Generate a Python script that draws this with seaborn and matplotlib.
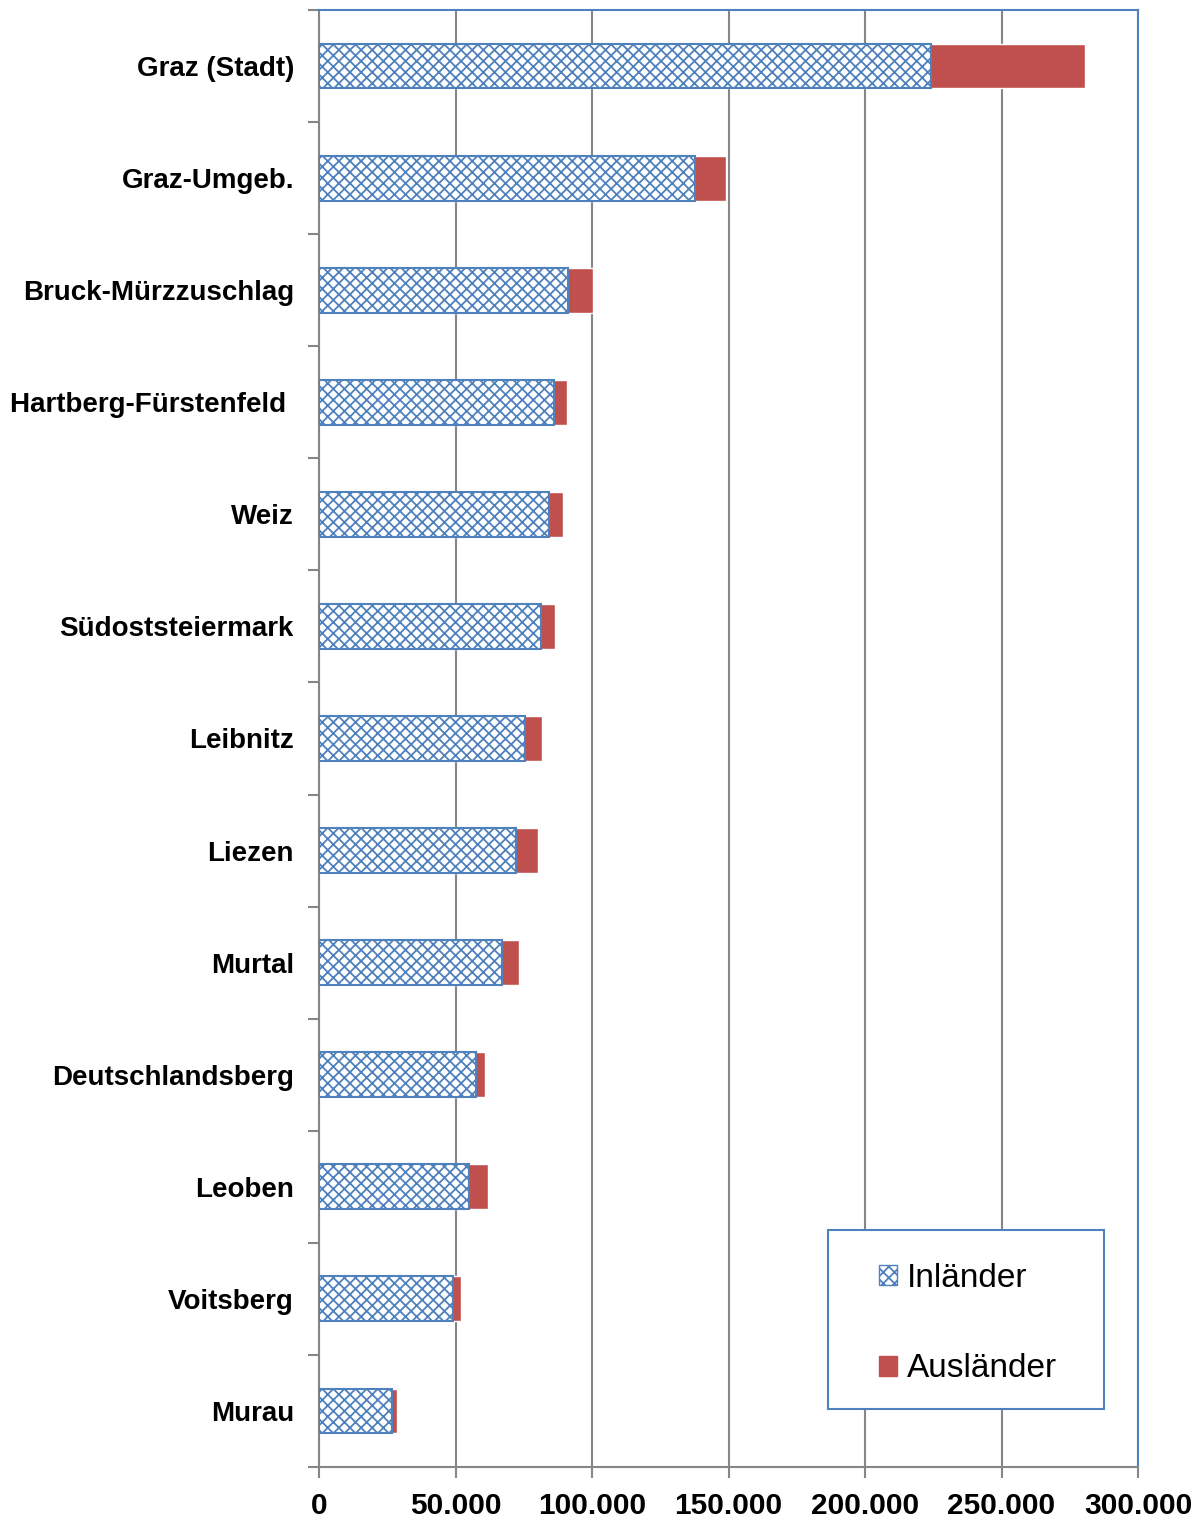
import matplotlib
matplotlib.use("Agg")
import matplotlib.pyplot as plt
from matplotlib.patches import Patch, Rectangle
import seaborn as sns

regions = ["Graz (Stadt)", "Graz-Umgeb.", "Bruck-Mürzzuschlag", "Hartberg-Fürstenfeld ",
           "Weiz", "Südoststeiermark", "Leibnitz", "Liezen", "Murtal",
           "Deutschlandsberg", "Leoben", "Voitsberg", "Murau"]
inlaender = [224200, 137700, 91200, 86100, 84200, 81300, 75500, 72200, 67000,
             57500, 54900, 49100, 26700]
auslaender = [56400, 11400, 9200, 4700, 5200, 5100, 6200, 8000, 6200,
              3300, 7000, 2900, 1800]
xticks = [0, 50000, 100000, 150000, 200000, 250000, 300000]
xlabels = ["0", "50.000", "100.000", "150.000", "200.000", "250.000", "300.000"]

blue = "#4F81BD"
red = "#C0504D"
grey = "#868686"

sns.set_style("white")
plt.rcParams["font.family"] = ["Liberation Sans", "DejaVu Sans"]
plt.rcParams["hatch.color"] = blue
plt.rcParams["hatch.linewidth"] = 1.3
plt.rcParams["text.color"] = "black"

total = [a + b for a, b in zip(inlaender, auslaender)]

fig = plt.figure(figsize=(12.02, 15.22), dpi=100)
ax = fig.add_axes([319 / 1202, 1 - 1467 / 1522, (1138 - 319) / 1202, (1467 - 10) / 1522])

sns.barplot(x=total, y=regions, color=red, orient="h", width=0.4,
            saturation=1, ax=ax, zorder=3)
sns.barplot(x=inlaender, y=regions, color="white", orient="h", width=0.4,
            saturation=1, ax=ax, hatch="xxx", edgecolor=blue, linewidth=1.5, zorder=4)

ax.set_xlim(0, 300000)
ax.set_ylim(12.5, -0.5)
ax.set_xticks(xticks)
ax.set_xticklabels(xlabels, fontsize=21.5, fontweight="bold", color="black")
ax.set_yticks(range(len(regions)))
ax.set_yticklabels(regions, fontsize=20, fontweight="bold", color="black")
ax.tick_params(axis="y", length=0, pad=18)
ax.set_yticks([i - 0.5 for i in range(len(regions) + 1)], minor=True)
ax.tick_params(axis="y", which="minor", length=8, width=1.5, color=grey, left=True)
ax.tick_params(axis="x", length=8, width=1.5, color=grey, bottom=True, pad=10)
ax.set_xlabel("")
ax.set_ylabel("")

ax.grid(axis="x", color=grey, linewidth=1.5, zorder=0)
ax.set_axisbelow(True)
for side in ["left", "bottom"]:
    ax.spines[side].set_color(grey)
    ax.spines[side].set_linewidth(1.5)
for side in ["top", "right"]:
    ax.spines[side].set_color(blue)
    ax.spines[side].set_linewidth(1.5)

# legend box drawn separately, entries without frame
box = Rectangle((0.6215, 0.0398), 0.337, 0.1229, transform=ax.transAxes,
                facecolor="white", edgecolor=blue, linewidth=1.5, zorder=5)
ax.add_patch(box)
handles = [Patch(facecolor="white", edgecolor=blue, hatch="xxx", label="Inländer"),
           Patch(facecolor=red, edgecolor=red, label="Ausländer")]
leg = ax.legend(handles=handles, loc="upper left", bbox_to_anchor=(0.6838, 0.1400),
                fontsize=24, frameon=False, handlelength=0.55,
                handleheight=0.55, handletextpad=0.3, labelspacing=1.78,
                borderpad=0, borderaxespad=0)
leg.set_zorder(6)

fig.savefig("out.png", dpi=100)
